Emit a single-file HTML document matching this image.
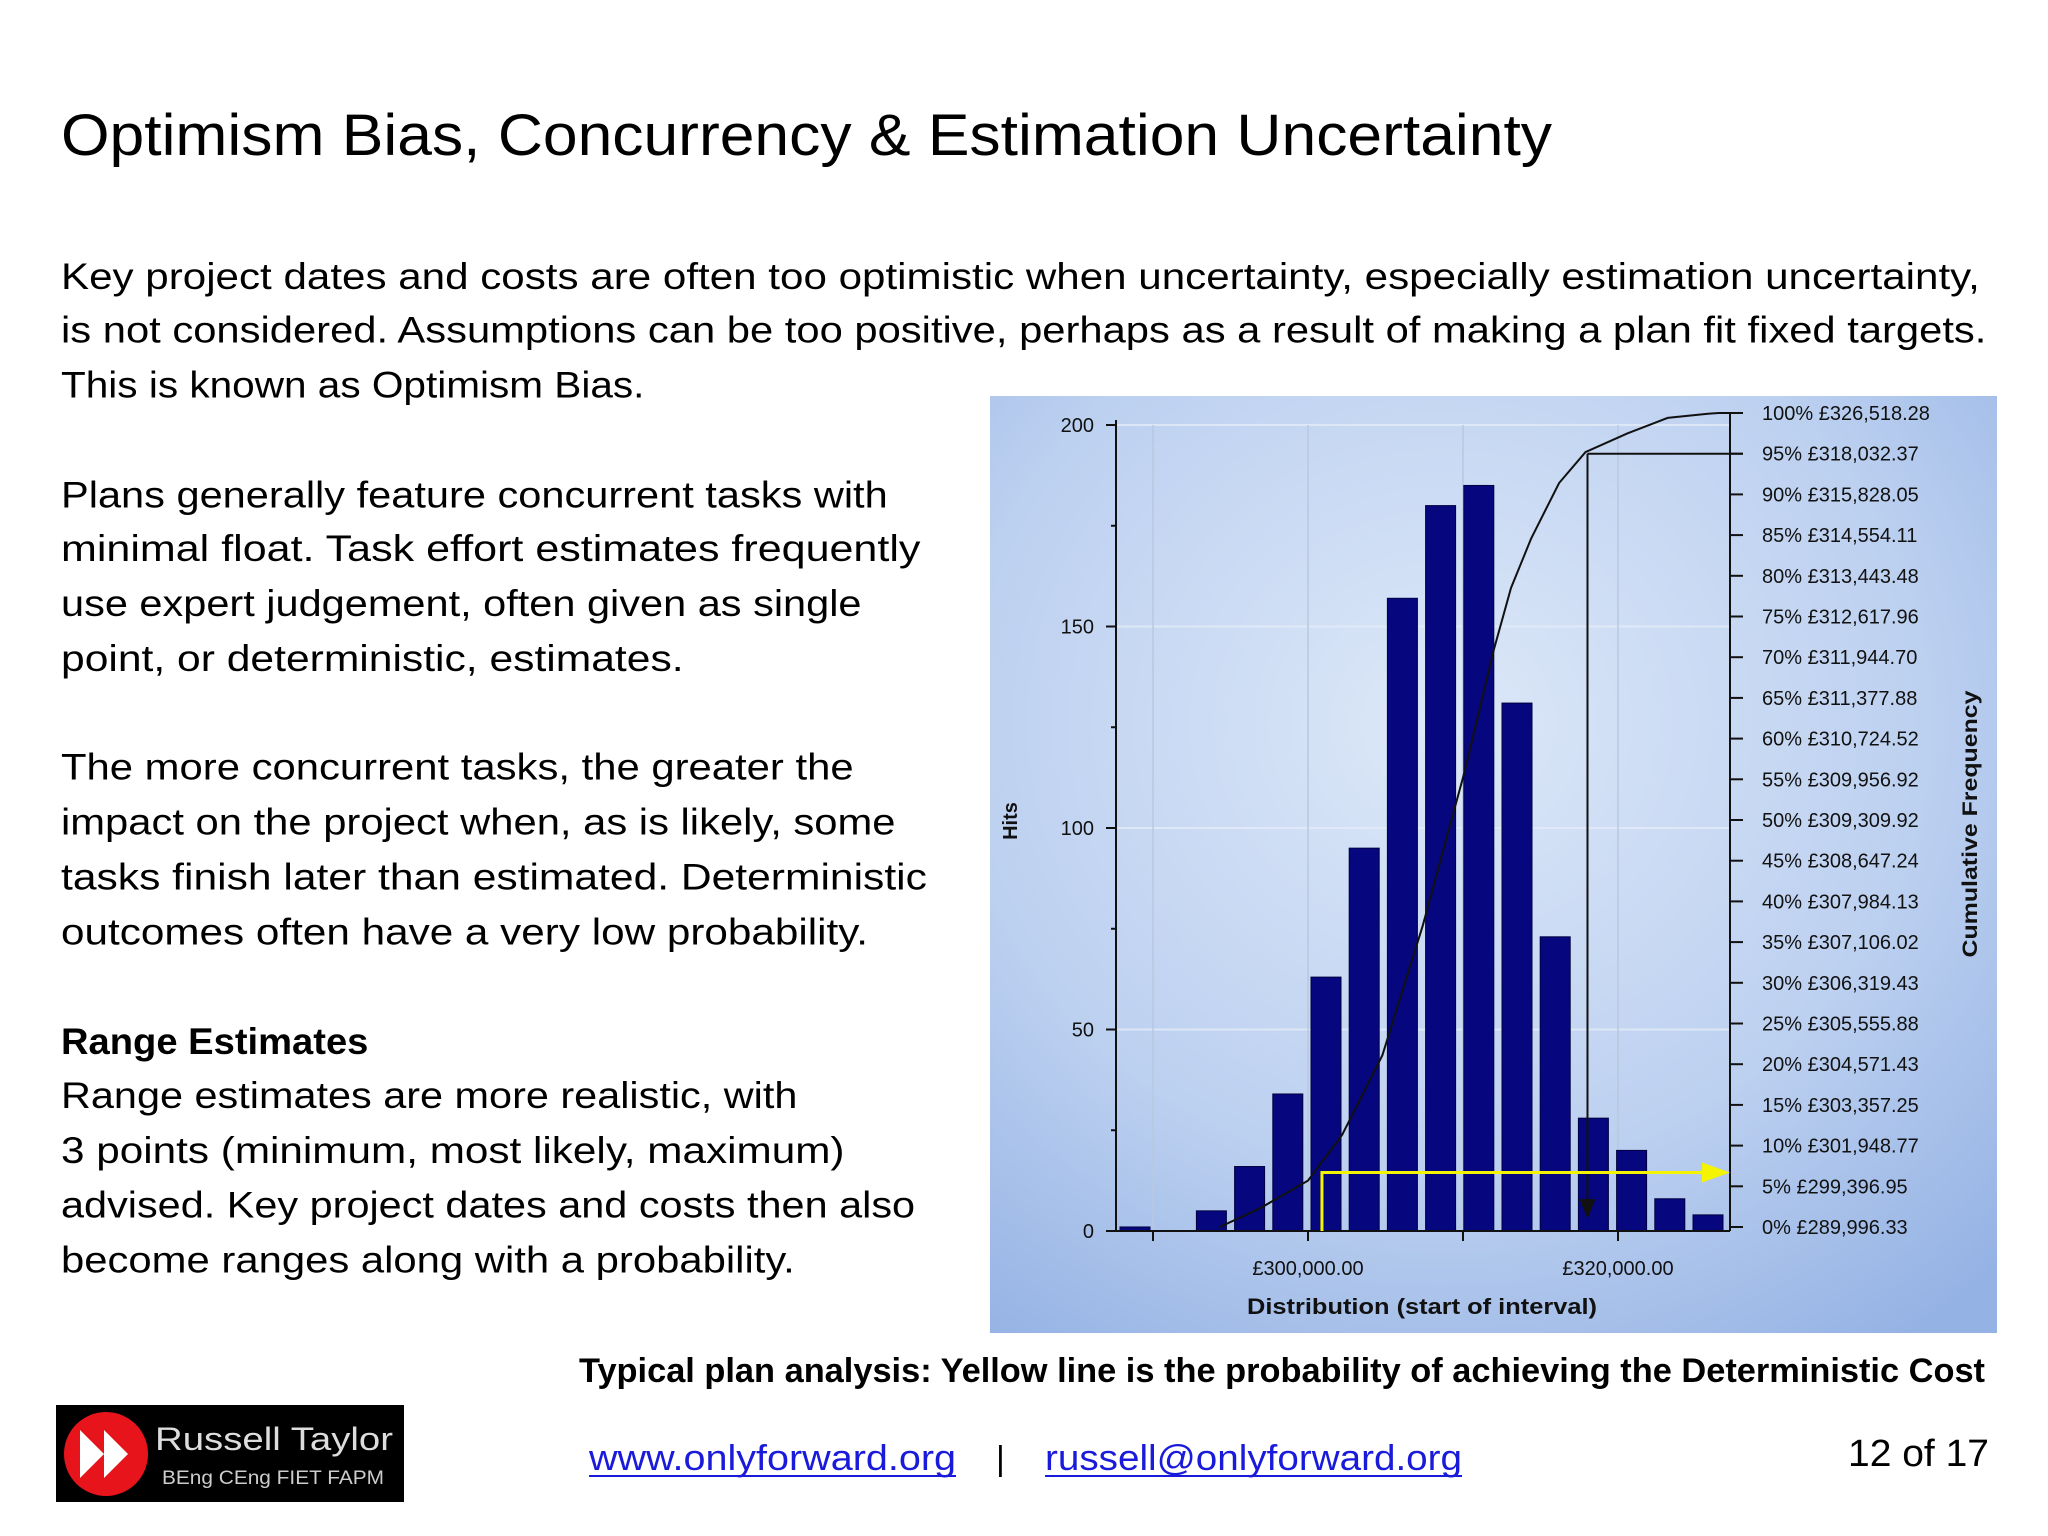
<!DOCTYPE html>
<html><head><meta charset="utf-8"><style>
html,body{margin:0;padding:0;background:#fff;}
svg{display:block;}
.b{font-family:"Liberation Sans",sans-serif;font-size:37px;fill:#000;}
.c{font-family:"Liberation Sans",sans-serif;font-size:20px;fill:#111;}
</style></head><body>
<svg id="page" width="2048" height="1536" viewBox="0 0 2048 1536" xmlns="http://www.w3.org/2000/svg">
<defs>
<radialGradient id="bg" cx="0.45" cy="0.35" r="0.8">
<stop offset="0" stop-color="#dde8f8"/><stop offset="0.6" stop-color="#bcd0f0"/><stop offset="1" stop-color="#94b2e4"/>
</radialGradient>
</defs>
<text x="61" y="155" font-family="Liberation Sans, sans-serif" font-size="58" textLength="1491" lengthAdjust="spacingAndGlyphs">Optimism Bias, Concurrency &amp; Estimation Uncertainty</text>
<g id="body"></g>
<g id="chart"></g>
<text x="579" y="1382" font-family="Liberation Sans, sans-serif" font-weight="bold" font-size="34" textLength="1406" lengthAdjust="spacingAndGlyphs">Typical plan analysis: Yellow line is the probability of achieving the Deterministic Cost</text>
<g>
<rect x="56" y="1405" width="348" height="97" fill="#000"/>
<circle cx="106" cy="1454" r="42" fill="#e8141c"/>
<path d="M80 1430 L104 1454 L80 1478 Z M104 1430 L128 1454 L104 1478 Z" fill="#fff"/>
<text x="155" y="1450" font-family="Liberation Sans, sans-serif" font-size="32" fill="#ddd" textLength="238" lengthAdjust="spacingAndGlyphs">Russell Taylor</text>
<text x="162" y="1484" font-family="Liberation Sans, sans-serif" font-size="19" fill="#ccc" textLength="222" lengthAdjust="spacingAndGlyphs">BEng CEng FIET FAPM</text>
</g>
<text x="589" y="1470" font-family="Liberation Sans, sans-serif" font-size="36" fill="#1a1adb" textLength="367" lengthAdjust="spacingAndGlyphs">www.onlyforward.org</text>
<line x1="589" y1="1476" x2="956" y2="1476" stroke="#1a1adb" stroke-width="2"/>
<text x="996" y="1470" font-family="Liberation Sans, sans-serif" font-size="34">|</text>
<text x="1045" y="1470" font-family="Liberation Sans, sans-serif" font-size="36" fill="#1a1adb" textLength="417" lengthAdjust="spacingAndGlyphs">russell@onlyforward.org</text>
<line x1="1045" y1="1476" x2="1462" y2="1476" stroke="#1a1adb" stroke-width="2"/>
<text x="1848" y="1466" font-family="Liberation Sans, sans-serif" font-size="38" textLength="141" lengthAdjust="spacingAndGlyphs">12 of 17</text>
</svg>
<script>
const NS="http://www.w3.org/2000/svg";
const lines=[
["Key project dates and costs are often too optimistic when uncertainty, especially estimation uncertainty,",211,1514,0],
["is not considered.  Assumptions can be too positive, perhaps as a result of making a plan fit fixed targets.",252,1519,0],
["This is known as Optimism Bias.",294,493,0],
["Plans generally feature concurrent tasks with",378,679,0],
["minimal float.  Task effort estimates frequently",419,704,0],
["use expert judgement, often given as single",461,659,0],
["point, or deterministic, estimates.",503,523,0],
["The more concurrent tasks, the greater the",586,653,0],
["impact on the project when, as is likely, some",628,685,0],
["tasks finish later than estimated.  Deterministic",670,709,0],
["outcomes often have a very low probability.",712,664,0],
["Range Estimates",796,282,1],
["Range estimates are more realistic, with",837,610,0],
["3 points (minimum, most likely, maximum)",879,646,0],
["advised.  Key project dates and costs then also",921,700,0],
["become ranges along with a probability.",963,608,0]];
const body=document.getElementById('body');
lines.forEach((l,i)=>{const t=document.createElementNS(NS,'text');


t.setAttribute('class','b');t.setAttribute('x',61);t.setAttribute('y',((l[1]+10)*1.308).toFixed(1));
t.setAttribute('textLength',((l[2]-47)*1.308).toFixed(1));t.setAttribute('lengthAdjust','spacingAndGlyphs');
if(l[3])t.setAttribute('font-weight','bold');t.textContent=l[0];body.appendChild(t);});

// ---- chart data ----
const bins=["b0","b1","b2","b3","b4","b5","b6","b7","b8","b9","b10","b11","b12","b13","b14","b15"];
const hits=[1,0,5,16,34,63,95,157,180,185,131,73,28,20,8,4];
const yTicks=[0,50,100,150,200];
const xTickValues=[290000,300000,310000,320000];
const xTickLabels=["","£300,000.00","","£320,000.00"];
const pctLabels=["0%","5%","10%","15%","20%","25%","30%","35%","40%","45%","50%","55%","60%","65%","70%","75%","80%","85%","90%","95%","100%"];
const pctValues=["£289,996.33","£299,396.95","£301,948.77","£303,357.25","£304,571.43","£305,555.88","£306,319.43","£307,106.02","£307,984.13","£308,647.24","£309,309.92","£309,956.92","£310,724.52","£311,377.88","£311,944.70","£312,617.96","£313,443.48","£314,554.11","£315,828.05","£318,032.37","£326,518.28"];
const cumX=[294300,296900,300000,302200,304800,307400,310100,312000,313100,314400,316200,317900,320600,323200,325800,326500];
const cumP=[0,2.3,5.7,11.3,21.1,37.0,55.9,71.0,78.5,84.6,91.4,95.2,97.5,99.4,99.9,100];
const detCost=300900, detProb=6.7, p95Cost=318032, p95=95;

const X0=1116,X1=1730,Y0=1231,Y200=425;
const yS=v=>Y0-(Y0-Y200)*v/200;
const xS=v=>1308+(v-300000)*310/20000;
const pS=p=>1227-(1227-413)*p/100;
const bandC=i=>1135+i*38.2, bw=30;

const ch=document.getElementById('chart');
function el(tag,attrs,parent){const e=document.createElementNS(NS,tag);for(const k in attrs)e.setAttribute(k,attrs[k]);(parent||ch).appendChild(e);return e;}
let bgr=el('rect',{x:990,y:396,width:1007,height:937,fill:'url(#bg)'});


yTicks.forEach(v=>{if(v>0){let g=el('line',{x1:X0,x2:X1,y1:yS(v),y2:yS(v),stroke:'#e4ecf8','stroke-width':2,opacity:0.8});

}});
xTickValues.forEach(v=>{let g=el('line',{x1:xS(v),x2:xS(v),y1:Y200,y2:Y0,stroke:'#b8c8e0','stroke-width':1.5});

});
hits.forEach((h,i)=>{if(h<=0)return;let r=el('rect',{x:bandC(i)-bw/2,y:yS(h),width:bw,height:Y0-yS(h),fill:'#06067e',stroke:'#000040','stroke-width':1});

});
let ax=el('path',{d:`M${X0} ${Y200-5} V${Y0} H${X1} M${X1} ${pS(100)} V${Y0}`,stroke:'#111','stroke-width':2,fill:'none'});


for(let v=0;v<=200;v+=25){el('line',{x1:X0-(v%50?5:10),x2:X0,y1:yS(v),y2:yS(v),stroke:'#111','stroke-width':2});}
yTicks.forEach(v=>{let t=el('text',{x:1094,y:yS(v)+7,'text-anchor':'end',class:'c'});t.textContent=v;

});
xTickValues.forEach((v,i)=>{el('line',{x1:xS(v),x2:xS(v),y1:Y0,y2:Y0+10,stroke:'#111','stroke-width':2});
let t=el('text',{x:xS(v),y:1275,'text-anchor':'middle',class:'c'});t.textContent=xTickLabels[i];

});
pctLabels.forEach((p,i)=>{const y=pS(i*5);el('line',{x1:X1,x2:X1+13,y1:y,y2:y,stroke:'#111','stroke-width':2});
let t=el('text',{x:1762,y:y+7,class:'c'});t.textContent=p+'  '+pctValues[i];t.setAttribute('xml:space','preserve');

});
let d=cumX.map((v,i)=>(i?'L':'M')+xS(v).toFixed(1)+' '+pS(cumP[i]).toFixed(1)).join(' ')+` L${X1} ${pS(100)}`;
let cl=el('path',{d:d,stroke:'#111','stroke-width':2,fill:'none'});


let rl=el('path',{d:`M${xS(p95Cost)} ${pS(p95)} H${X1+13} M${xS(p95Cost)} ${pS(p95)} V${Y0-30}`,stroke:'#111','stroke-width':2,fill:'none'});


el('path',{d:`M${xS(p95Cost)-8} ${Y0-32} L${xS(p95Cost)+8} ${Y0-32} L${xS(p95Cost)} ${Y0-12} Z`,fill:'#111'});
let yl=el('path',{d:`M${xS(detCost)} ${Y0} V${pS(detProb)} H${X1-20}`,stroke:'#f4f400','stroke-width':3,fill:'none'});


el('path',{d:`M${X1-28} ${pS(detProb)-10} L${X1} ${pS(detProb)} L${X1-28} ${pS(detProb)+10} Z`,fill:'#f4f400'});
let yt=el('text',{x:0,y:0,transform:'translate(1017 821) rotate(-90)','text-anchor':'middle','font-family':'Liberation Sans, sans-serif','font-weight':'bold','font-size':20,fill:'#111'});yt.textContent='Hits';


let rt=el('text',{x:0,y:0,transform:'translate(1977 824) rotate(-90)','text-anchor':'middle','font-family':'Liberation Sans, sans-serif','font-weight':'bold','font-size':21,fill:'#111',textLength:267,lengthAdjust:'spacingAndGlyphs'});rt.textContent='Cumulative Frequency';


let xt=el('text',{x:1422,y:1314,'text-anchor':'middle','font-family':'Liberation Sans, sans-serif','font-weight':'bold','font-size':22,fill:'#111',textLength:350,lengthAdjust:'spacingAndGlyphs'});xt.textContent='Distribution (start of interval)';


</script>
</body></html>
